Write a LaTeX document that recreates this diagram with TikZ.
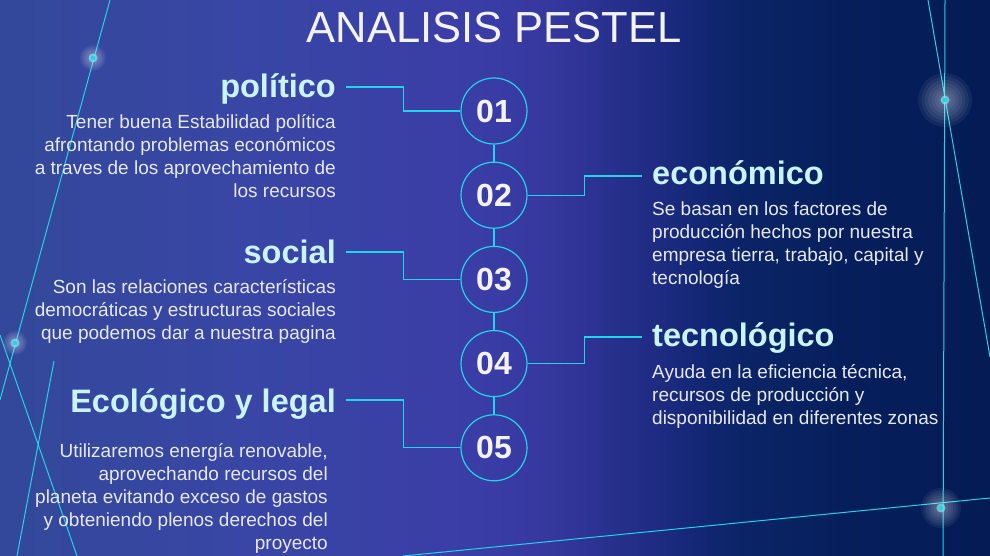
\documentclass[tikz,border=0pt]{standalone}
\usepackage{fontspec}
\setmainfont{Liberation Sans}
\usetikzlibrary{positioning, calc}

\definecolor{linecyan}{HTML}{22D4E8}
\definecolor{headcyan}{HTML}{C9F4FC}
\definecolor{bodywhite}{HTML}{E6E8F2}
\definecolor{numwhite}{HTML}{F2F2F7}
\definecolor{bgleft}{HTML}{33489A}
\definecolor{bgmid}{HTML}{3946A5}
\definecolor{bgpurple}{HTML}{3A3CA6}
\definecolor{bgfade}{HTML}{36389E}
\definecolor{bgturn}{HTML}{212D85}
\definecolor{bgdeep}{HTML}{122674}
\definecolor{bgdark}{HTML}{0B2466}
\definecolor{bgnavy}{HTML}{061F5C}
\definecolor{bgright}{HTML}{041B55}
% the path spans 25bp..75bp of the shading
\pgfdeclarehorizontalshading{pestelbg}{100bp}{color(0bp)=(bgleft); color(25bp)=(bgleft); color(37.5bp)=(bgmid); color(50bp)=(bgpurple); color(52.5bp)=(bgfade); color(57.5bp)=(bgturn); color(60.5bp)=(bgdeep); color(62.5bp)=(bgdark); color(67.5bp)=(bgnavy); color(75bp)=(bgright); color(100bp)=(bgright)}

\begin{document}
\begin{tikzpicture}[
    x=1pt, y=-1pt,
    node distance=17pt,
    stage/.style={
        circle,
        draw=linecyan,
        line width=1.2pt,
        minimum size=66pt,
        inner sep=0pt,
        text=numwhite,
        font=\fontsize{32}{32}\selectfont\bfseries
    },
    heading/.style={
        inner sep=0pt,
        text=headcyan,
        font=\fontsize{32.5}{36}\selectfont\bfseries
    },
    body/.style={
        inner sep=0pt,
        text=bodywhite,
        font=\fontsize{19}{23}\selectfont
    },
    link/.style={
        draw=linecyan,
        line width=1.2pt
    },
    streak/.style={
        draw=linecyan,
        line width=1pt
    }
]
    % Background
    \useasboundingbox (0,0) rectangle (990,556);
    \clip (0,0) rectangle (990,556);
    \shade [shading=pestelbg] (0,0) rectangle (990,556);

    % Light streaks
    \draw [streak] (110,0) -- (0,400);
    \draw [streak] (0,335) -- (77,556);
    \draw [streak] (54,361) -- (17,556);
    \draw [streak] (945,0) -- (943,556);
    \draw [streak] (928,0) -- (990,357);
    \draw [streak] (403,556) -- (990,498);
    \foreach \gx/\gy/\gr in {93/58/13, 15/343/12, 945/100/27, 941/508/20} {
        \foreach \k in {1,...,8}
            \fill [white, opacity=0.06] (\gx,\gy) circle [radius=\gr*\k/8];
        \fill [linecyan!60!white, opacity=0.7] (\gx,\gy) circle [radius=4.5];
        \fill [linecyan] (\gx,\gy) circle [radius=2.2];
    }

    % Title
    \node [anchor=base, inner sep=0pt, text=numwhite, font=\fontsize{43.5}{44}\selectfont] (title) at (494,43) {ANALISIS PESTEL};

    % Nodes
    \node [stage] (c1) at (494,111) {01};
    \node [stage, below=of c1] (c2) {02};
    \node [stage, below=of c2] (c3) {03};
    \node [stage, below=of c3] (c4) {04};
    \node [stage, below=of c4] (c5) {05};

    \node [heading, anchor=base east] (hpol) at (336,98) {político};
    \node [heading, anchor=base east] (hsoc) at (336,263) {social};
    \node [heading, anchor=base east] (heco) at (336,412) {Ecológico y legal};
    \node [heading, anchor=base west] (hecon) at (652,185) {económico};
    \node [heading, anchor=base west] (htec) at (652,346) {tecnológico};

    % (base of a multi-line node = its last line)
    \node [body, align=right, anchor=base east] (tpol) at ([yshift=-99pt]hpol.base east) {Tener buena Estabilidad política\\ afrontando problemas económicos\\ a traves de los aprovechamiento de\\ los recursos};
    \node [body, align=right, anchor=base east] (tsoc) at ([yshift=-76pt]hsoc.base east) {Son las relaciones características\\ democráticas y estructuras sociales\\ que podemos dar a nuestra pagina};
    \node [body, align=right, anchor=base east] (teco) at ([xshift=-8pt, yshift=-137pt]heco.base east) {Utilizaremos energía renovable,\\ aprovechando recursos del\\ planeta evitando exceso de gastos\\ y obteniendo plenos derechos del\\ proyecto};
    \node [body, align=left, anchor=base west] (tecon) at ([yshift=-99pt]hecon.base west) {Se basan en los factores de\\ producción hechos por nuestra\\ empresa tierra, trabajo, capital y\\ tecnología};
    \node [body, align=left, anchor=base west] (ttec) at ([yshift=-78pt]htec.base west) {Ayuda en la eficiencia técnica,\\ recursos de producción y\\ disponibilidad en diferentes zonas};

    % Connector ends
    \coordinate (epol) at ([xshift=10pt, yshift=11pt]hpol.base east);
    \coordinate (esoc) at ([xshift=10pt, yshift=11pt]hsoc.base east);
    \coordinate (eeco) at ([xshift=10pt, yshift=12pt]heco.base east);
    \coordinate (eecon) at ([xshift=-10pt, yshift=9pt]hecon.base west);
    \coordinate (etec) at ([xshift=-10pt, yshift=9pt]htec.base west);

    % Connectors
    \draw [link] (c1) -- (c2);
    \draw [link] (c2) -- (c3);
    \draw [link] (c3) -- (c4);
    \draw [link] (c4) -- (c5);
    \draw [link] (epol) -| ($(epol)!.5!(c1.west)$) |- (c1.west);
    \draw [link] (esoc) -| ($(esoc)!.5!(c3.west)$) |- (c3.west);
    \draw [link] (eeco) -| ($(eeco)!.5!(c5.west)$) |- (c5.west);
    \draw [link] (c2.east) -| ($(c2.east)!.5!(eecon)$) |- (eecon);
    \draw [link] (c4.east) -| ($(c4.east)!.5!(etec)$) |- (etec);
\end{tikzpicture}
\end{document}
